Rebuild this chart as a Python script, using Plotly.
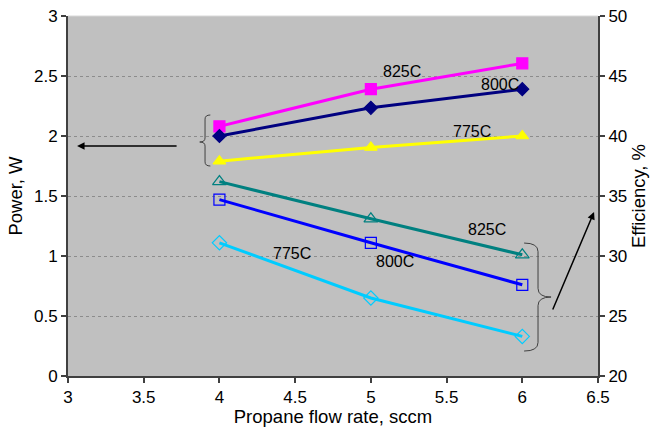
import plotly.graph_objects as go

flow = [4, 5, 6]
power_825 = [2.08, 2.39, 2.605]
power_800 = [2.0, 2.235, 2.39]
power_775 = [1.79, 1.905, 2.0]
eff_825 = [36.2, 33.1, 30.1]
eff_800 = [34.7, 31.1, 27.6]
eff_775 = [31.1, 26.5, 23.3]

FONT = "Liberation Sans, Arial, sans-serif"
fig = go.Figure()

def add(y, color, symbol, size, axis):
    fig.add_trace(go.Scatter(x=flow, y=y, mode="lines+markers", yaxis=axis,
                             line=dict(color=color, width=3),
                             marker=dict(symbol=symbol, size=size, color=color,
                                         line=dict(color=color, width=1.2)),
                             showlegend=False, cliponaxis=False))

add(power_825, "#FF00FF", "square", 11, "y")
add(power_800, "#000080", "diamond", 10, "y")
add(power_775, "#FFFF00", "triangle-up", 11, "y")
add(eff_825, "#008080", "triangle-up-open", 12, "y2")
add(eff_800, "#0000FF", "square-open", 11, "y2")
add(eff_775, "#00CCFF", "diamond-open", 11, "y2")

def brace(x_end, x_mid, x_tip, y_top, y_bot, y_tip):
    r = 0.08 * (y_top - y_bot)
    return (f"M {x_end},{y_top} Q {x_mid},{y_top} {x_mid},{y_top - r} "
            f"L {x_mid},{y_tip + r} Q {x_mid},{y_tip} {x_tip},{y_tip} "
            f"Q {x_mid},{y_tip} {x_mid},{y_tip - r} "
            f"L {x_mid},{y_bot + r} Q {x_mid},{y_bot} {x_end},{y_bot}")

shapes = [
    dict(type="path", xref="x", yref="y", path=brace(3.94, 3.905, 3.87, 2.175, 1.75, 1.95),
         line=dict(color="#404040", width=1)),
    dict(type="path", xref="x", yref="y", path=brace(6.012, 6.104, 6.19, 1.108, 0.208, 0.658),
         line=dict(color="#404040", width=1)),
]

annots = []
for x, y, t in [(5.206, 2.54, "825C"), (5.853, 2.433, "800C"), (5.668, 2.036, "775C"),
                (5.77, 1.222, "825C"), (5.16, 0.953, "800C"), (4.48, 1.025, "775C")]:
    annots.append(dict(x=x, y=y, xref="x", yref="y", text=t, showarrow=False,
                       font=dict(family=FONT, size=16, color="black")))
annots.append(dict(x=3.06, y=1.917, ax=3.727, ay=1.917, xref="x", yref="y", axref="x", ayref="y",
                   text="", showarrow=True, arrowhead=2, arrowsize=1, arrowwidth=1.5, arrowcolor="black"))
annots.append(dict(x=6.474, y=1.367, ax=6.197, ay=0.542, xref="x", yref="y", axref="x", ayref="y",
                   text="", showarrow=True, arrowhead=2, arrowsize=1, arrowwidth=1.5, arrowcolor="black"))

axis_common = dict(showline=True, linecolor="#404040", linewidth=2, ticks="outside",
                   ticklen=5, tickcolor="#404040", tickwidth=1.5, automargin=False,
                   tickfont=dict(family=FONT, size=17, color="black"), zeroline=False)

fig.update_layout(
    width=656, height=427,
    margin=dict(l=68, r=58, t=16, b=51),
    paper_bgcolor="white", plot_bgcolor="#C0C0C0",
    xaxis=dict(range=[3, 6.5], dtick=0.5, showgrid=False,
               title=dict(text="Propane flow rate, sccm", font=dict(family=FONT, size=18.5, color="black"), standoff=0),
               mirror=False, **axis_common),
    yaxis=dict(range=[0, 3], dtick=0.5, showgrid=True, gridcolor="#8C8C8C", griddash="3px,3px", gridwidth=1,
               title=dict(text="Power, W", font=dict(family=FONT, size=18.5, color="black"), standoff=6),
               **axis_common),
    yaxis2=dict(range=[20, 50], dtick=5, overlaying="y", side="right", showgrid=False,
                title=dict(text="Efficiency, %", font=dict(family=FONT, size=18.5, color="black"), standoff=6),
                **axis_common),
    shapes=shapes + [dict(type="line", xref="paper", yref="paper", x0=0, x1=1, y0=1, y1=1,
                          line=dict(color="#D8D8D8", width=1))],
    annotations=annots,
)

fig.write_html("out.html", config={"displayModeBar": False},
               post_script="document.body.style.margin='0';document.body.style.overflow='hidden';")
